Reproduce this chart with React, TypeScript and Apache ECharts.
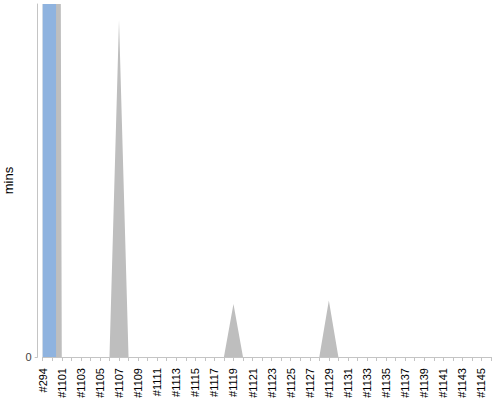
import { FC, useEffect, useRef } from "react";
import * as echarts from "echarts";

// build numbers on the x axis
const builds: string[] = [
  "#294", "#1100", "#1101", "#1102", "#1103", "#1104", "#1105", "#1106", "#1107", "#1108",
  "#1109", "#1110", "#1111", "#1112", "#1113", "#1114", "#1115", "#1116", "#1117", "#1118",
  "#1119", "#1120", "#1121", "#1122", "#1123", "#1124", "#1125", "#1126", "#1127", "#1128",
  "#1129", "#1130", "#1131", "#1132", "#1133", "#1134", "#1135", "#1136", "#1137", "#1138",
  "#1139", "#1140", "#1141", "#1142", "#1143", "#1144", "#1145", "#1146",
];

// duration in minutes (first two builds go far beyond the visible range)
const durations: number[] = [
  200, 200, 0, 0, 0, 0, 0, 0, 19.1, 0,
  0, 0, 0, 0, 0, 0, 0, 0, 0, 0,
  3.0, 0, 0, 0, 0, 0, 0, 0, 0, 0,
  3.2, 0, 0, 0, 0, 0, 0, 0, 0, 0,
  0, 0, 0, 0, 0, 0, 0, 0,
];

// highlighted build span, in category positions, and its height in minutes
const highlightSpan: number[] = [0, 1.4];
const highlightHeight = 200;

const yMax = 20;

const App: FC = () => {
  const chartRef = useRef<HTMLDivElement>(null);

  useEffect(() => {
    if (!chartRef.current) return;
    const chart = echarts.init(chartRef.current, null, { renderer: "svg" });
    const font = "'Liberation Sans', Arial, sans-serif";

    chart.setOption({
      animation: false,
      grid: { left: 42.7, right: 9, top: 4, bottom: 43, containLabel: false, outerBoundsMode: "none" },
      xAxis: [
        {
          type: "category",
          data: builds,
          boundaryGap: false,
          offset: 5,
          axisLine: { lineStyle: { color: "#c4c4c4", width: 1 } },
          axisTick: { interval: 0, length: 4, lineStyle: { color: "#c4c4c4" } },
          axisLabel: {
            interval: 1,
            rotate: 90,
            margin: 6,
            color: "#000",
            fontSize: 11,
            fontFamily: font,
          },
          splitLine: { show: false },
        },
        {
          // hidden position axis for the highlight band
          type: "value",
          min: 0,
          max: builds.length - 1,
          show: false,
        },
      ],
      yAxis: {
        type: "value",
        min: 0,
        max: yMax,
        interval: yMax,
        offset: 5,
        name: "mins",
        nameLocation: "middle",
        nameGap: 20,
        nameTextStyle: { color: "#000", fontSize: 13, fontFamily: font },
        axisLine: { show: true, onZero: false, lineStyle: { color: "#c4c4c4", width: 1 } },
        axisTick: { show: true, length: 3, customValues: [0], lineStyle: { color: "#c4c4c4" } },
        axisLabel: { customValues: [0], color: "#444", fontSize: 11, fontFamily: font, margin: 6 },
        splitLine: { show: false },
      },
      series: [
        {
          type: "line",
          data: durations,
          symbol: "none",
          clip: true,
          lineStyle: { width: 0, color: "#bebebe" },
          areaStyle: { color: "#bebebe", opacity: 1 },
        },
        {
          type: "line",
          xAxisIndex: 1,
          data: highlightSpan.map((x) => [x, highlightHeight]),
          symbol: "none",
          clip: true,
          silent: true,
          lineStyle: { width: 0, color: "#8fb3df" },
          areaStyle: { color: "#8fb3df", opacity: 1 },
        },
      ],
    });

    return () => {
      chart.dispose();
    };
  }, []);

  return (
    <div
      ref={chartRef}
      style={{ position: "fixed", left: 0, top: 0, width: 500, height: 400, background: "#fff" }}
    />
  );
};

export default App;
